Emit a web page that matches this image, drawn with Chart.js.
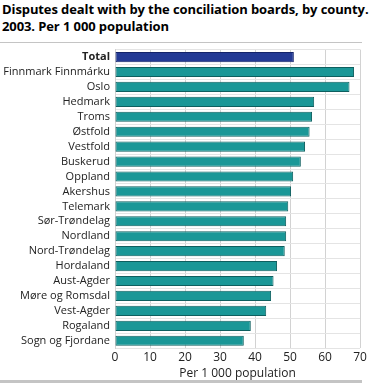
<!DOCTYPE html>
<html lang="en">
<head>
    <meta charset="UTF-8">
    <title>Conciliation boards by county</title>
    <script src="https://cdn.jsdelivr.net/npm/chart.js"></script>
    <style>
        body { margin: 0; padding: 0; background: #fff; font-family: "Open Sans", sans-serif; }
        #title {
            position: absolute; left: 2px; top: 1px; white-space: nowrap; z-index: 2;
            font-size: 13px; font-weight: bold; line-height: 17px; color: #000;
            letter-spacing: -0.1px;
        }
        .rule { position: absolute; left: 0; width: 362px; background: #c4c4c4; z-index: 2; }
        #chart-box { position: absolute; left: 0; top: 38px; width: 376px; height: 345px; z-index: 1; }
    </style>
</head>
<body>

<div id="title">Disputes dealt with by the conciliation boards, by county.<br>2003. Per 1 000 population</div>
<div class="rule" style="top:42px;height:1px;"></div>
<div id="chart-box"><canvas id="chart" width="376" height="345"></canvas></div>
<div class="rule" style="top:380px;height:3px;"></div>

<script>
    // Counties, sorted as in the source
    const counties = [
        'Total', 'Finnmark Finnmárku', 'Oslo', 'Hedmark', 'Troms', 'Østfold',
        'Vestfold', 'Buskerud', 'Oppland', 'Akershus', 'Telemark', 'Sør-Trøndelag',
        'Nordland', 'Nord-Trøndelag', 'Hordaland', 'Aust-Agder', 'Møre og Romsdal',
        'Vest-Agder', 'Rogaland', 'Sogn og Fjordane'
    ];

    // Disputes per 1 000 population
    const perThousand = [
        51.1, 68.3, 67.0, 56.9, 56.3, 55.6,
        54.3, 53.1, 50.9, 50.3, 49.5, 48.9,
        48.9, 48.5, 46.3, 45.3, 44.6,
        43.2, 38.8, 36.8
    ];

    const xTicks = [0, 10, 20, 30, 40, 50, 60, 70];

    const fillColors = counties.map((c, i) => i === 0 ? '#233a95' : '#1a9797');
    const edgeColors = counties.map((c, i) => i === 0 ? '#14246a' : '#0e5f5f');

    const ctx = document.getElementById('chart').getContext('2d');
    new Chart(ctx, {
        type: 'bar',
        data: {
            labels: counties,
            datasets: [{
                data: perThousand,
                backgroundColor: fillColors,
                borderColor: edgeColors,
                borderWidth: 1,
                borderSkipped: false,
                categoryPercentage: 1,
                barPercentage: 0.68
            }]
        },
        options: {
            indexAxis: 'y',
            responsive: false,
            animation: false,
            layout: { padding: { top: 2, right: 16, left: 0, bottom: 2 } },
            plugins: { legend: { display: false }, tooltip: { enabled: false } },
            scales: {
                x: {
                    min: 0, max: 70,
                    afterBuildTicks: axis => { axis.ticks = xTicks.map(v => ({ value: v })); },
                    grid: { color: '#d2d2d2', drawTicks: false },
                    border: { display: false },
                    ticks: { color: '#222', padding: 2, font: { family: 'Open Sans', size: 12 } },
                    title: {
                        display: true, text: 'Per 1 000 population', color: '#222',
                        padding: { top: 0, bottom: 0 },
                        font: { family: 'Open Sans', size: 12 }
                    }
                },
                y: {
                    grid: { color: '#e4e4e4', offset: true, drawTicks: false },
                    border: { color: '#d2d2d2' },
                    afterFit: axis => { axis.width = 115; },
                    ticks: {
                        autoSkip: false,
                        color: '#222', padding: 5,
                        font: c => ({ family: 'Open Sans', size: 11, weight: c.index === 0 ? 'bold' : 'normal' })
                    }
                }
            }
        }
    });
</script>

</body>
</html>
